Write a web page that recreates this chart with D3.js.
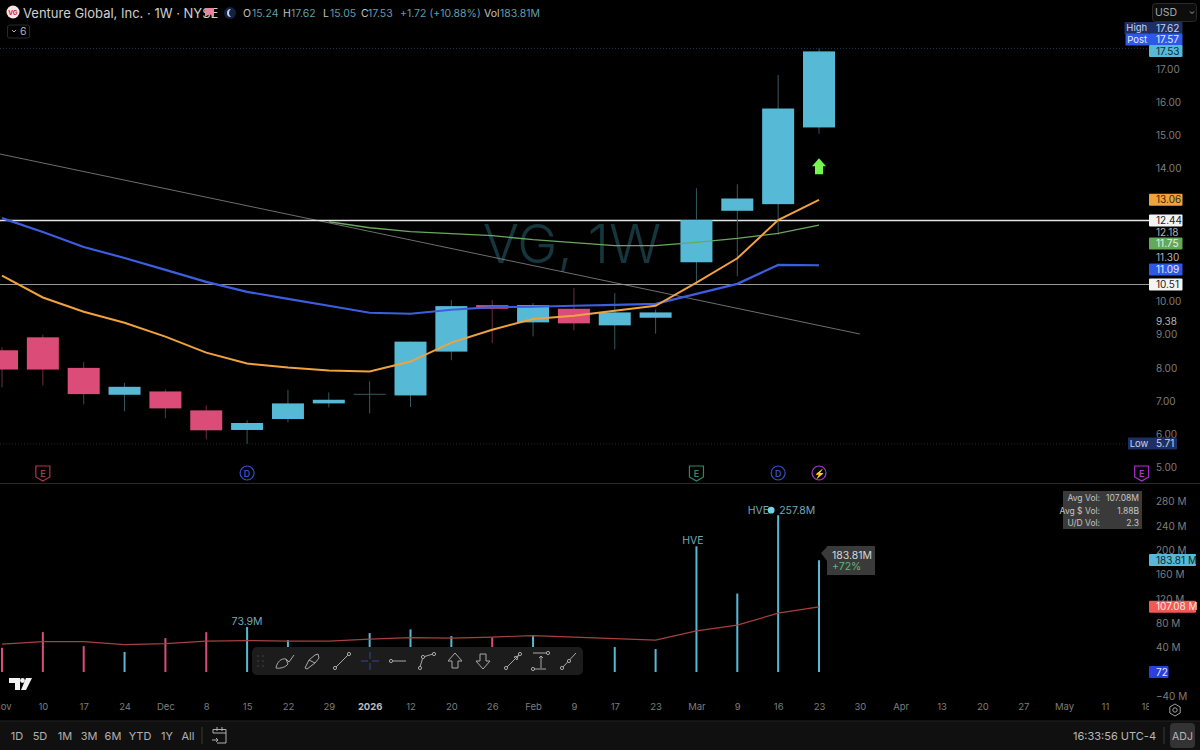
<!DOCTYPE html>
<html>
<head>
<meta charset="utf-8">
<script src="https://cdn.jsdelivr.net/npm/d3@7/dist/d3.min.js"></script>
<style>
html, body { margin: 0; background: #000; overflow: hidden; }
text { font-family: Inter, "Noto Sans", sans-serif; }
</style>
</head>
<body>
<div id="chart"></div>
<script>
const timeLabels = ["Nov", "10", "17", "24", "Dec", "8", "15", "22", "29", "2026", "12", "20", "26", "Feb", "9", "17", "23", "Mar", "9", "16", "23", "30", "Apr", "13", "20", "27", "May", "11", "18"]
const opens = [8.53, 8.92, 8.0, 7.19, 7.29, 6.72, 6.13, 6.46, 6.93, 7.22, 7.17, 8.49, 9.89, 9.37, 9.78, 9.28, 9.51, 11.18, 12.73, 12.93, 15.24]
const closes = [7.95, 7.95, 7.21, 7.43, 6.78, 6.12, 6.34, 6.93, 7.04, 7.22, 8.79, 9.86, 9.78, 9.89, 9.34, 9.67, 9.67, 12.45, 13.1, 15.81, 17.53]
const highs = [8.62, 9.0, 8.18, 7.55, 7.35, 6.87, 6.42, 7.34, 7.26, 7.6, 8.79, 10.04, 10.04, 9.95, 10.4, 10.25, 9.76, 13.41, 13.53, 16.82, 17.62]
const lows = [7.41, 7.47, 6.9, 6.69, 6.48, 5.85, 5.71, 6.36, 6.81, 6.63, 6.82, 8.23, 8.75, 8.95, 9.13, 8.56, 9.03, 10.52, 10.76, 12.0, 15.05]
const volumes = [40, 65.6, 42.6, 33, 55.7, 65.5, 73.9, 52.5, 35, 64, 70, 59, 57, 60.7, 40, 41, 37.7, 206.6, 129, 257.8, 183.81]
const avgVolumes = [45.9, 50, 50, 45, 46.7, 50.8, 51.6, 50.8, 50.8, 54, 56.5, 55.7, 57.4, 59.8, 57.4, 54.9, 52.5, 67.7, 77, 96.7, 107.08]
const emaOrange = [10.78, 10.12, 9.69, 9.36, 8.94, 8.46, 8.13, 8.01, 7.92, 7.89, 8.19, 8.76, 9.15, 9.47, 9.57, 9.72, 9.87, 10.57, 11.3, 12.45, 13.06]
const emaBlue = [12.51, 12.09, 11.64, 11.31, 10.95, 10.59, 10.29, 10.08, 9.87, 9.66, 9.63, 9.75, 9.83, 9.84, 9.87, 9.9, 9.93, 10.23, 10.53, 11.1, 11.09 + 0.63]
const emaGreen = [null, null, null, null, null, null, null, null, 12.4, 12.22, 12.1, 12.04, 11.98, 11.86, 11.77, 11.68, 11.68, 11.78, 11.9, 12.05, 12.3]
const trendLine = [{ i: -0.05, p: 14.44 }, { i: 21, p: 9.02 }]
const levelLines = [{ p: 12.44, color: "#e6e6e6", width: 1.6 }, { p: 10.51, color: "#9a9a9a", width: 1 }]
const priceTicks = [17, 16, 15, 14, 10, 9, 8, 7, 6, 5]
const volumeTicks = [280, 240, 200, 160, 120, 80, 40, -40]

const width = 1200
const height = 750
const axisLeft = 1149
const upColor = "#56b9d6"
const downColor = "#dc4c79"
const grey = "#7d7d7d"

const x = d3.scaleLinear().domain([0, 28]).range([2, 1145.8])
const y = d3.scaleLinear().domain([5, 17]).range([467.5, 69])
const v = d3.scaleLinear().domain([0, 280]).range([672, 501.7])

const svg = d3.select("#chart").append("svg")
  .attr("width", width)
  .attr("height", height)
  .style("display", "block")

const defs = svg.append("defs")
defs.append("clipPath").attr("id", "plot")
  .append("rect").attr("width", axisLeft).attr("height", height)

svg.append("rect").attr("width", width).attr("height", height).attr("fill", "#000")
const plot = svg.append("g").attr("clip-path", "url(#plot)")

// watermark
plot.append("text")
  .attr("x", 572).attr("y", 263)
  .attr("text-anchor", "middle")
  .attr("font-size", 54)
  .attr("font-weight", 300)
  .attr("fill", "#16363d")
  .text("VG, 1W")

// high and low dotted lines
plot.selectAll("line.dots")
  .data([17.62, 5.71])
  .join("line")
    .attr("class", "dots")
    .attr("x1", 0).attr("x2", axisLeft)
    .attr("y1", d => y(d)).attr("y2", d => y(d))
    .attr("stroke", (d, i) => i ? "#2a2a2a" : "#1f3a55")
    .attr("stroke-dasharray", "1 2")

plot.append("line")
  .attr("x1", x(trendLine[0].i)).attr("y1", y(trendLine[0].p))
  .attr("x2", x(trendLine[1].i)).attr("y2", y(trendLine[1].p))
  .attr("stroke", "#8a8a8a").attr("stroke-width", 1).attr("opacity", 0.8)

plot.selectAll("line.level")
  .data(levelLines)
  .join("line")
    .attr("class", "level")
    .attr("x1", 0).attr("x2", axisLeft)
    .attr("y1", d => y(d.p)).attr("y2", d => y(d.p))
    .attr("stroke", d => d.color)
    .attr("stroke-width", d => d.width)

// candles
const candles = opens.map((o, i) => ({ i, o, c: closes[i], h: highs[i], l: lows[i] }))
const isDown = d => d.c < d.o || (d.i === 12)
const wickColor = d => isDown(d) ? "#6e2c47" : "#35595f"

plot.selectAll("line.wick")
  .data(candles)
  .join("line")
    .attr("class", "wick")
    .attr("x1", d => x(d.i)).attr("x2", d => x(d.i))
    .attr("y1", d => y(d.h)).attr("y2", d => y(d.l))
    .attr("stroke", wickColor)
    .attr("stroke-width", 1)

plot.selectAll("rect.body")
  .data(candles)
  .join("rect")
    .attr("class", "body")
    .attr("x", d => x(d.i) - 16)
    .attr("width", 32)
    .attr("y", d => y(Math.max(d.o, d.c)))
    .attr("height", d => Math.max(1, Math.abs(y(d.o) - y(d.c))))
    .attr("fill", d => d.o === d.c ? wickColor(d) : isDown(d) ? downColor : upColor)

// moving averages
const lineFn = d3.line()
  .defined(d => d !== null)
  .x((d, i) => x(i))
  .y(d => y(d))

plot.append("path").datum(emaGreen)
  .attr("d", lineFn).attr("fill", "none")
  .attr("stroke", "#6aa85f").attr("stroke-width", 1.3)
plot.append("path").datum(emaBlue.map((d, i) => i === 20 ? 11.09 + 0 : d))
  .attr("d", lineFn).attr("fill", "none")
  .attr("stroke", "#3d5ee0").attr("stroke-width", 2.2)
plot.append("path").datum(emaOrange)
  .attr("d", lineFn).attr("fill", "none")
  .attr("stroke", "#f0a23c").attr("stroke-width", 2)

// green arrow above the last bar
plot.append("path")
  .attr("transform", `translate(${x(20)},${y(14.07)})`)
  .attr("d", "M0,-8L7,0H4V8H-4V0H-7Z")
  .attr("fill", "#76f54f")

// pane separator
svg.append("line")
  .attr("x1", 0).attr("x2", width)
  .attr("y1", 483.5).attr("y2", 483.5)
  .attr("stroke", "#2a2a2a")

// event markers
const markers = [
  { i: 1, label: "E", color: "#a8394c", shape: "shield" },
  { i: 6, label: "D", color: "#3350c8", shape: "circle" },
  { i: 17, label: "E", color: "#2f8a64", shape: "shield" },
  { i: 19, label: "D", color: "#3350c8", shape: "circle" },
  { i: 20, label: "⚡", color: "#a43bd0", shape: "circle" },
  { i: 27.9, label: "E", color: "#b032d8", shape: "shield" }
]
const marker = plot.selectAll("g.marker")
  .data(markers)
  .join("g")
    .attr("class", "marker")
    .attr("transform", d => `translate(${x(d.i)},473)`)
marker.filter(d => d.shape === "circle").append("circle")
  .attr("r", 7).attr("fill", "#000").attr("stroke", d => d.color).attr("stroke-width", 1.2)
marker.filter(d => d.shape === "shield").append("path")
  .attr("d", "M-7,-7H7V4L0,8L-7,4Z")
  .attr("fill", "#000").attr("stroke", d => d.color).attr("stroke-width", 1.2)
marker.append("text")
  .attr("y", 3.5).attr("text-anchor", "middle")
  .attr("font-size", 9).attr("font-weight", 600)
  .attr("fill", d => d.color)
  .text(d => d.label)

// volume pane
plot.selectAll("line.vol")
  .data(volumes)
  .join("line")
    .attr("class", "vol")
    .attr("x1", (d, i) => x(i)).attr("x2", (d, i) => x(i))
    .attr("y1", d => v(d)).attr("y2", v(0))
    .attr("stroke", (d, i) => isDown(candles[i]) ? downColor : upColor)
    .attr("stroke-width", 2)

plot.append("path").datum(avgVolumes)
  .attr("d", d3.line().x((d, i) => x(i)).y(d => v(d)))
  .attr("fill", "none")
  .attr("stroke", "#a5423f").attr("stroke-width", 1.2)

const volNote = (xx, yy, label, anchor = "middle") => svg.append("text")
  .attr("x", xx).attr("y", yy)
  .attr("text-anchor", anchor)
  .attr("font-size", 10.5)
  .attr("fill", "#6fa9b8")
  .text(label)
volNote(x(6), v(73.9) - 2, "73.9M")
volNote(693, v(206.6) - 2, "HVE")
volNote(x(19) - 9, v(257.8) - 1, "HVE", "end")
volNote(x(19) + 1, v(257.8) - 1, "257.8M", "start")
svg.append("circle")
  .attr("cx", x(19) - 7 + 0).attr("cy", v(257.8) - 5).attr("r", 3.4)
  .attr("fill", "#6fd3ea")

// volume tooltip
svg.append("path")
  .attr("d", `M827,546H875V575H827V561L${x(20) + 2},553L827,547Z`)
  .attr("fill", "#3a3a3a")
svg.append("text").attr("x", 832).attr("y", 558.5)
  .attr("font-size", 10.5).attr("fill", "#d6d6d6").text("183.81M")
svg.append("text").attr("x", 832).attr("y", 569.5)
  .attr("font-size", 10.5).attr("fill", "#5fb878").text("+72%")

// stats box
const statLabels = ["Avg Vol:", "Avg $ Vol:", "U/D Vol:"]
const statValues = ["107.08M", "1.88B", "2.3"]
svg.append("rect")
  .attr("x", 1063).attr("y", 491).attr("width", 79).attr("height", 38)
  .attr("fill", "#3a3a3a")
statLabels.forEach((d, i) => {
  svg.append("text").attr("x", 1100).attr("y", 501 + i * 12.5)
    .attr("text-anchor", "end").attr("font-size", 8.5).attr("fill", "#c4c4c4").text(d)
  svg.append("text").attr("x", 1139).attr("y", 501 + i * 12.5)
    .attr("text-anchor", "end").attr("font-size", 8.5).attr("fill", "#c4c4c4").text(statValues[i])
})

// toolbar
svg.append("rect")
  .attr("x", 252).attr("y", 647).attr("width", 331).attr("height", 28).attr("rx", 5)
  .attr("fill", "#1c1c1c")
const grip = svg.append("g").attr("fill", "#4a4a4a")
d3.range(3).forEach(r => [0, 1].forEach(c => grip.append("circle")
  .attr("cx", 258 + c * 5).attr("cy", 656 + r * 5).attr("r", 0.8)))
const toolIcons = [
  { x: 285, d: "M-9,7C-8,1 -4,-3 1,-2L3,3C1,6 -5,8 -9,7ZM1,-2L4,1L9,-6", color: "#a8a8a8" },
  { x: 312, d: "M-7,7L-3,-1L3,-6L6,-7L7,-3L3,2L-5,8ZM-3,-1L3,2", color: "#a8a8a8" },
  { x: 342, d: "M-6,6L6,-6", color: "#a8a8a8", ends: [[-7, 7], [7, -7]] },
  { x: 370, d: "M-9,0H-2M2,0H9M0,-9V-2M0,2V9", color: "#34478f" },
  { x: 398, d: "M-5,0H8", color: "#a8a8a8", ends: [[-7, 0]] },
  { x: 427, d: "M-7,6L-4,-4L6,-7", color: "#a8a8a8", ends: [[-7, 7], [-4, -4], [7, -7]] },
  { x: 455, d: "M0,-8L7,0H3V7H-3V0H-7Z", color: "#a8a8a8" },
  { x: 483, d: "M0,8L7,0H3V-7H-3V0H-7Z", color: "#a8a8a8" },
  { x: 513, d: "M-6,6L6,-6M1,-4L5,-5L4,-1Z", color: "#a8a8a8", ends: [[-7, 7], [7, -7]] },
  { x: 541, d: "M-8,-8H5M-8,8H5M0,-5V7M-2,-3L0,-5L2,-3", color: "#a8a8a8", ends: [[7, -8], [-8, 8]] },
  { x: 569, d: "M-6,6L7,-8", color: "#a8a8a8", ends: [[-7, 7], [0, 0]] }
]
const tool = svg.selectAll("g.tool")
  .data(toolIcons)
  .join("g")
    .attr("class", "tool")
    .attr("transform", d => `translate(${d.x},661)`)
tool.append("path")
  .attr("d", d => d.d).attr("fill", "none")
  .attr("stroke", d => d.color).attr("stroke-width", 1)
tool.each(function (d) {
  d3.select(this).selectAll("circle")
    .data(d.ends || [])
    .join("circle")
      .attr("cx", e => e[0]).attr("cy", e => e[1]).attr("r", 1.6)
      .attr("fill", "#1c1c1c").attr("stroke", d.color)
})

// tradingview mark
svg.append("path")
  .attr("d", "M9,678H20V690H15V683H9ZM26,678H32L26,690H21Z")
  .attr("fill", "#f2f2f2")
svg.append("circle").attr("cx", 22.5).attr("cy", 680.5).attr("r", 2.4).attr("fill", "#f2f2f2")

// price axis
const priceAxis = svg.append("g")
  .attr("transform", `translate(${axisLeft},0)`)
  .call(d3.axisRight(y).tickValues(priceTicks).tickSize(0).tickPadding(7).tickFormat(d3.format(".2f")))
priceAxis.select(".domain").remove()
priceAxis.selectAll("text").attr("fill", grey).attr("font-size", 10).style("font-family", "Inter, sans-serif")

// volume axis
const volumeAxis = svg.append("g")
  .attr("transform", `translate(${axisLeft},0)`)
  .call(d3.axisRight(v).tickValues(volumeTicks).tickSize(0).tickPadding(7).tickFormat(d => (d < 0 ? "−" + -d : d) + " M"))
volumeAxis.select(".domain").remove()
volumeAxis.selectAll("text").attr("fill", grey).attr("font-size", 10).style("font-family", "Inter, sans-serif")

// plain value labels on the axis
const axisNotes = [12.18, 11.3, 9.38]
svg.selectAll("text.note")
  .data(axisNotes)
  .join("text")
    .attr("class", "note")
    .attr("x", axisLeft + 7)
    .attr("y", (d, i) => [232.5, 258, 322][i])
    .attr("dy", "0.32em")
    .attr("font-size", 10)
    .attr("fill", "#b4b4b4")
    .text(d3.format(".2f"))

// axis tags
const tags = [
  { t: "17.62", cy: 28, bg: "#1d2f63", fg: "#c8d2ee" },
  { t: "17.57", cy: 39.5, bg: "#3058e8", fg: "#e4eaff" },
  { t: "17.53", cy: 51, bg: "#56b9d6", fg: "#0c2a33" },
  { t: "13.06", cy: 199.7, bg: "#f0a23c", fg: "#3c2606" },
  { t: "12.44", cy: 220.6, bg: "#f4f4f4", fg: "#222" },
  { t: "11.75", cy: 243.5, bg: "#64a85c", fg: "#e5f3e2" },
  { t: "11.09", cy: 269.5, bg: "#3058e8", fg: "#e4eaff" },
  { t: "10.51", cy: 284.5, bg: "#f4f4f4", fg: "#222" },
  { t: "5.71", cy: 443.5, bg: "#1d2f63", fg: "#c8d2ee", w: 28 },
  { t: "183.81 M", cy: 560, bg: "#56b9d6", fg: "#0c2a33", w: 47 },
  { t: "107.08 M", cy: 606.7, bg: "#ef5a55", fg: "#fde6e5", w: 47 },
  { t: "72", cy: 672, bg: "#2a3fe0", fg: "#e4eaff", w: 19.5 }
]
const tag = svg.selectAll("g.tag")
  .data(tags)
  .join("g")
    .attr("class", "tag")
    .attr("transform", d => `translate(${axisLeft},${d.cy})`)
tag.append("rect")
  .attr("y", -6).attr("height", 12).attr("rx", 1)
  .attr("width", d => d.w || 33.5)
  .attr("fill", d => d.bg)
tag.append("text")
  .attr("x", 7).attr("dy", "0.36em")
  .attr("font-size", 10)
  .attr("fill", d => d.fg)
  .text(d => d.t)

// tag captions to the left of the axis
const captions = [
  { t: "High", cy: 28, bg: "#1d2f63", fg: "#c8d2ee", w: 24.5, x0: axisLeft - 24.5 },
  { t: "Post", cy: 39.5, bg: "#3058e8", fg: "#e4eaff", w: 23.5, x0: axisLeft - 23.5 },
  { t: "Low", cy: 443.5, bg: "#1d2f63", fg: "#c8d2ee", w: 22, x0: axisLeft - 21 }
]
const caption = svg.selectAll("g.caption")
  .data(captions)
  .join("g")
    .attr("class", "caption")
    .attr("transform", d => `translate(${d.x0},${d.cy})`)
caption.append("rect")
  .attr("y", -6).attr("height", 12).attr("width", d => d.w)
  .attr("fill", d => d.bg)
caption.append("text")
  .attr("x", d => d.w / 2).attr("dy", "0.36em")
  .attr("text-anchor", "middle")
  .attr("font-size", 9.5)
  .attr("fill", d => d.fg)
  .text(d => d.t)

// currency box
svg.append("rect")
  .attr("x", 1152.5).attr("y", 3.5).attr("width", 44).attr("height", 18).attr("rx", 3)
  .attr("fill", "#0d0d0d").attr("stroke", "#2a2a2a")
svg.append("text").attr("x", 1155).attr("y", 16)
  .attr("font-size", 10.5).attr("fill", "#a8a8a8").text("USD")
svg.append("path").attr("d", "M1190,11.5L1192,13.5L1194,11.5")
  .attr("fill", "none").attr("stroke", "#a8a8a8")

// time axis
const timeAxis = svg.append("g")
  .attr("clip-path", "url(#plot)")
  .append("g")
  .attr("transform", "translate(0,703)")
  .call(d3.axisBottom(x).tickValues(d3.range(timeLabels.length)).tickSize(0).tickPadding(0).tickFormat(i => timeLabels[i]))
timeAxis.select(".domain").remove()
timeAxis.selectAll("text")
  .attr("fill", (d, i) => timeLabels[i] === "2026" ? "#bdbdbd" : grey)
  .attr("font-weight", (d, i) => timeLabels[i] === "2026" ? 700 : 400)
  .attr("font-size", 9.5)
  .style("font-family", "Inter, sans-serif")

// settings hexagon
svg.append("path")
  .attr("d", "M1175,704L1180.2,707V713L1175,716L1169.8,713V707Z")
  .attr("fill", "none").attr("stroke", "#a0a0a0")
svg.append("circle").attr("cx", 1175).attr("cy", 710).attr("r", 2.2)
  .attr("fill", "none").attr("stroke", "#a0a0a0")

// bottom bar
svg.append("rect").attr("x", 0).attr("y", 721).attr("width", width).attr("height", 29).attr("fill", "#101010")
svg.append("line").attr("x1", 0).attr("x2", width).attr("y1", 721).attr("y2", 721).attr("stroke", "#222")
const rangeLabels = ["1D", "5D", "1M", "3M", "6M", "YTD", "1Y", "All"]
const rangeX = [17, 40, 65, 89, 113, 140, 167, 188]
svg.selectAll("text.range")
  .data(rangeLabels)
  .join("text")
    .attr("class", "range")
    .attr("x", (d, i) => rangeX[i])
    .attr("y", 740)
    .attr("text-anchor", "middle")
    .attr("font-size", 11)
    .attr("fill", "#b0b0b0")
    .text(d => d)
svg.append("line").attr("x1", 202).attr("x2", 202).attr("y1", 727).attr("y2", 744).attr("stroke", "#3a3a3a")
svg.append("path")
  .attr("d", "M213,733V729.5H226V743H217M213,733H226M217,727V731M222,727V731M212,740H218M216,738L218,740L216,742")
  .attr("fill", "none").attr("stroke", "#b0b0b0")
svg.append("text").attr("x", 1156).attr("y", 740).attr("text-anchor", "end")
  .attr("font-size", 11).attr("fill", "#b8b8b8").text("16:33:56 UTC-4")
svg.append("line").attr("x1", 1164).attr("x2", 1164).attr("y1", 727).attr("y2", 744).attr("stroke", "#3a3a3a")
svg.append("rect").attr("x", 1170).attr("y", 723).attr("width", 25).attr("height", 25).attr("rx", 4).attr("fill", "#333")
svg.append("text").attr("x", 1182.5).attr("y", 740).attr("text-anchor", "middle")
  .attr("font-size", 10.5).attr("fill", "#b8b8b8").text("ADJ")

// legend
svg.append("circle").attr("cx", 13).attr("cy", 12).attr("r", 6.5).attr("fill", "#f2e6e6")
svg.append("text").attr("x", 13).attr("y", 14.5).attr("text-anchor", "middle")
  .attr("font-size", 6.5).attr("font-weight", 700).attr("fill", "#c8323c").text("VG")
svg.append("text").attr("x", 23).attr("y", 18)
  .attr("font-size", 13).attr("fill", "#cfcfcf").text("Venture Global, Inc. · 1W · NYSE")
svg.append("path").attr("d", "M205,8H214V17L209.5,14L205,17Z").attr("fill", "#e8849e")
svg.append("circle").attr("cx", 230).attr("cy", 13).attr("r", 6).attr("fill", "#14213f")
svg.append("path").attr("d", "M231,9A4,4 0 1,0 231,17A5,5 0 0,1 231,9Z").attr("fill", "#c4d2f2")

const legendItems = [
  { x: 243, t: "O", c: "#c0c0c0" }, { x: 252, t: "15.24", c: "#5b9fae" },
  { x: 283, t: "H", c: "#c0c0c0" }, { x: 291, t: "17.62", c: "#5b9fae" },
  { x: 323, t: "L", c: "#c0c0c0" }, { x: 330, t: "15.05", c: "#5b9fae" },
  { x: 361, t: "C", c: "#c0c0c0" }, { x: 368, t: "17.53", c: "#5b9fae" },
  { x: 400, t: "+1.72 (+10.88%)", c: "#5b9fae" },
  { x: 484, t: "Vol", c: "#c0c0c0" }, { x: 500, t: "183.81M", c: "#5b9fae" }
]
svg.selectAll("text.legend")
  .data(legendItems)
  .join("text")
    .attr("class", "legend")
    .attr("x", d => d.x).attr("y", 17)
    .attr("font-size", 10.5)
    .attr("fill", d => d.c)
    .text(d => d.t)

svg.append("rect").attr("x", 7.5).attr("y", 25).attr("width", 22).attr("height", 13).attr("rx", 2)
  .attr("fill", "none").attr("stroke", "#2a2a2a")
svg.append("path").attr("d", "M12,30L14,32L16,30").attr("fill", "none").attr("stroke", "#b0b0b0")
svg.append("text").attr("x", 20).attr("y", 35)
  .attr("font-size", 10.5).attr("fill", "#b0b0b0").text("6")
</script>
</body>
</html>
